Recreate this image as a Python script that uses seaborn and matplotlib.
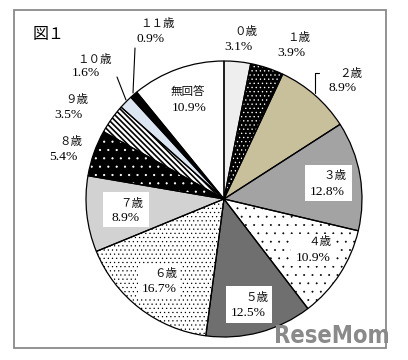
import matplotlib
matplotlib.use("Agg")
import matplotlib.pyplot as plt
import matplotlib.hatch as mhatch
from matplotlib.patches import Wedge, Rectangle
import seaborn as sns
import pandas as pd

sns.set_theme(style="white")
plt.rcParams['font.family'] = ['Liberation Serif', 'Noto Sans CJK JP', 'DejaVu Sans']
mhatch.SmallFilledCircles.size = 0.08

# ---- data ----
categories = ["０歳", "１歳", "２歳", "３歳", "４歳", "５歳", "６歳", "７歳",
              "８歳", "９歳", "１０歳", "１１歳", "無回答"]
values = [3.1, 3.9, 8.9, 12.8, 10.9, 12.5, 16.7, 8.9, 5.4, 3.5, 1.6, 0.9, 10.9]
pct_labels = ["3.1%", "3.9%", "8.9%", "12.8%", "10.9%", "12.5%", "16.7%", "8.9%",
              "5.4%", "3.5%", "1.6%", "0.9%", "10.9%"]
title_text = "図１"

df = pd.DataFrame({"category": categories, "value": values, "label": pct_labels})

# ---- styles ----
faces = ["#eeeeee", "#000000", "#c8bf9b", "#a3a3a3", "#ffffff", "#6f6f6f",
         "#ffffff", "#d2d2d2", "#000000", "#ffffff", "#dce6f2", "#000000", "#ffffff"]
hatches = [None, "....", None, None, "..", None, "....", None, "..", "\\" * 6, None, None, None]
hatch_cols = [None, "white", None, None, "black", None, "black", None, "white", "black",
              None, None, None]
hatch_lws = [0, 0.6, 0, 0, 0.4, 0, 0.5, 0, 0.6, 1.2, 0, 0, 0]

W, H = 408, 360
fig = plt.figure(figsize=(W / 100, H / 100), dpi=100)
ax = fig.add_axes([0, 0, 1, 1])

cx, cy, R = 224, H - 199, 138
wedges, _ = ax.pie(df["value"], startangle=90, counterclock=False,
                   center=(cx, cy), radius=R,
                   colors=faces, wedgeprops=dict(linewidth=0))
for w, h, hc, hl in zip(wedges, hatches, hatch_cols, hatch_lws):
    if h:
        with plt.rc_context({"hatch.linewidth": hl}):
            hp = Wedge(w.center, w.r, w.theta1, w.theta2, facecolor="none",
                       edgecolor=hc, linewidth=0, hatch=h, zorder=2)
        if hasattr(hp, "set_hatch_linewidth"):
            hp.set_hatch_linewidth(hl)
        ax.add_patch(hp)
    ax.add_patch(Wedge(w.center, w.r, w.theta1, w.theta2, fill=False,
                       edgecolor="black", linewidth=0.9, zorder=3))

ax.set_xlim(0, W)
ax.set_ylim(0, H)
ax.set_aspect("equal")
ax.axis("off")

# frame
ax.add_patch(Rectangle((14, H - 348), 372, 338, fill=False, edgecolor="#808080",
                       linewidth=1.2, zorder=5))

# white label boxes (x, y_top, w, h) in pixel coordinates
boxes = {3: (305, 165, 47, 36), 4: (291, 234, 45, 32), 5: (226, 286, 46, 37),
         6: (138, 264, 42, 33), 7: (103, 192, 46, 35)}
for i, (bx, by, bw, bh) in boxes.items():
    ax.add_patch(Rectangle((bx, H - by - bh), bw, bh, facecolor="white",
                           edgecolor="none", zorder=4))

# label positions: (right x of category, y of category, right x of pct, y of pct)
label_pos = [(257, 32, 253, 47), (310, 38, 305, 53), (362, 73, 357, 88),
             (347, 176, 345, 192), (331, 242, 331, 258), (268, 297, 266, 313),
             (177, 273, 177, 289), (143, 203, 140, 218), (82, 142, 78, 157),
             (88, 99, 83, 115), (112, 59, 100, 73), (175, 23, 165, 39),
             (205, 91, 207, 108)]
for (xc, yc, xp, yp), cat, lab in zip(label_pos, categories, pct_labels):
    ax.text(xc, H - yc, cat, ha="right", va="center", fontsize=8.3,
            family=["Noto Sans CJK JP"], color="#111111", zorder=6)
    ax.text(xp, H - yp, lab, ha="right", va="center", fontsize=9.7,
            color="black", zorder=6)

# leader lines
ax.plot([135, 133], [H - 48, H - 93], color="black", lw=0.8, zorder=6)
ax.plot([117, 126], [H - 77, H - 100], color="black", lw=0.8, zorder=6)
ax.plot([319, 315, 315], [H - 73, H - 73, H - 93], color="black", lw=0.8, zorder=6)

ax.text(33, H - 35, title_text, ha="left", va="center", fontsize=11.5,
        family=["Noto Sans CJK JP"], color="black")

ax.text(390, H - 336, "ReseMom", ha="right", va="center", fontsize=17,
        fontweight="bold", fontstretch="condensed", color="#8a8a8a",
        family=["DejaVu Sans"], zorder=7)

fig.savefig("out.png", dpi=100)
